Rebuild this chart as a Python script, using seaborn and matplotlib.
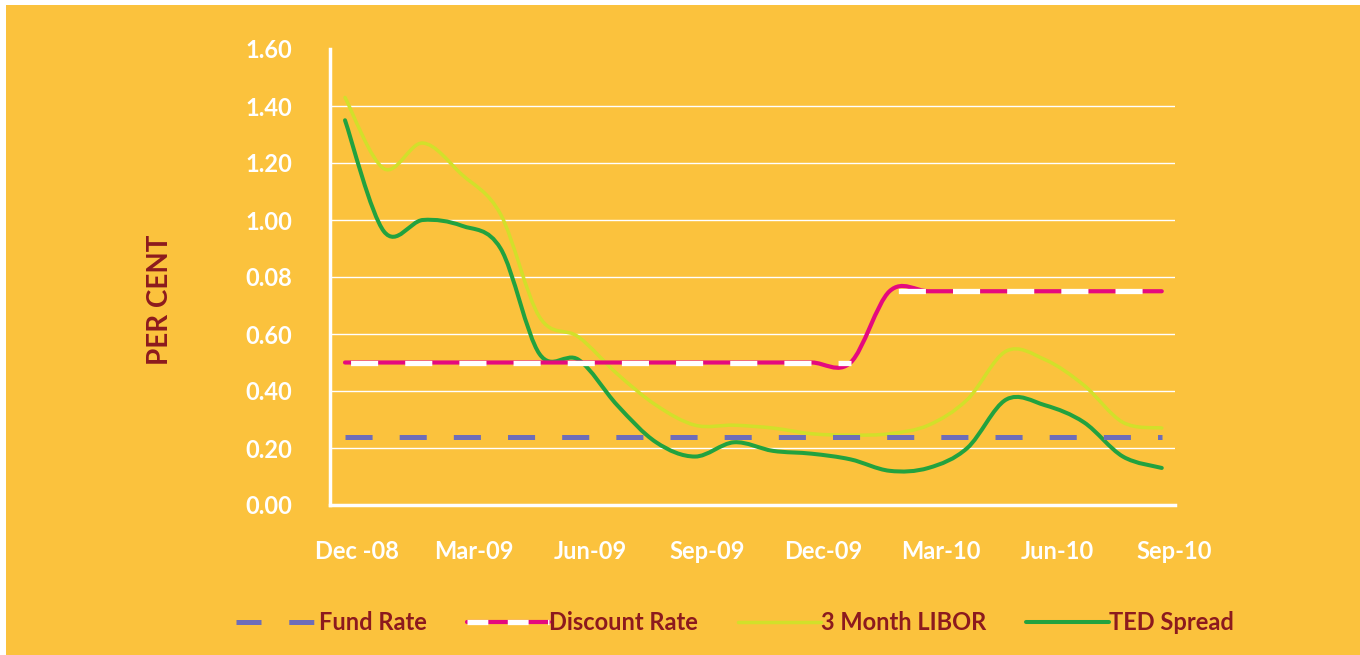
import numpy as np
import matplotlib
matplotlib.use("Agg")
import matplotlib.pyplot as plt
from matplotlib.path import Path
from matplotlib.patches import PathPatch, Rectangle
from matplotlib.lines import Line2D
from matplotlib.legend_handler import HandlerTuple
import matplotlib.transforms as mtransforms
import seaborn as sns

# monthly readings, Dec-08 .. Sep-10
months = ["Dec-08", "Jan-09", "Feb-09", "Mar-09", "Apr-09", "May-09", "Jun-09",
          "Jul-09", "Aug-09", "Sep-09", "Oct-09", "Nov-09", "Dec-09", "Jan-10",
          "Feb-10", "Mar-10", "Apr-10", "May-10", "Jun-10", "Jul-10", "Aug-10",
          "Sep-10"]
tick_labels = ["Dec -08", "Mar-09", "Jun-09", "Sep-09", "Dec-09", "Mar-10",
               "Jun-10", "Sep-10"]
y_tick_labels = ["0.00", "0.20", "0.40", "0.60", "0.08", "1.00", "1.20", "1.40", "1.60"]

fund_rate = [0.24] * 22
discount_rate = [0.50, 0.50, 0.50, 0.50, 0.50, 0.50, 0.50, 0.50, 0.50, 0.50, 0.50,
                 0.50, 0.50, 0.50, 0.75, 0.75, 0.75, 0.75, 0.75, 0.75, 0.75, 0.75]
libor_3m = [1.43, 1.18, 1.27, 1.16, 1.02, 0.66, 0.59, 0.46, 0.35, 0.28, 0.28,
            0.27, 0.25, 0.245, 0.25, 0.28, 0.37, 0.54, 0.51, 0.42, 0.29, 0.27]
ted_spread = [1.35, 0.96, 1.00, 0.98, 0.90, 0.53, 0.51, 0.35, 0.22, 0.17, 0.22,
              0.19, 0.18, 0.16, 0.12, 0.13, 0.20, 0.37, 0.35, 0.29, 0.17, 0.13]

BG = "#FBC23D"
TXT = "#8C1A1E"
FUND_C = "#6E6DB8"
DISC_C = "#E5097F"
LIBOR_C = "#D2E02A"
TED_C = "#22A23F"


def smooth_path(xs, ys):
    """Excel-style smoothed line as a cubic bezier path through the points"""
    p = np.column_stack([xs, ys]).astype(float)
    n = len(p)
    verts = [p[0]]
    codes = [Path.MOVETO]
    for i in range(n - 1):
        prev = p[max(i - 1, 0)]
        nxt = p[min(i + 2, n - 1)]
        c1 = p[i] + (p[i + 1] - prev) / 6
        c2 = p[i + 1] - (nxt - p[i]) / 6
        verts += [c1, c2, p[i + 1]]
        codes += [Path.CURVE4] * 3
    return Path(verts, codes)


sns.set_theme(style="white")
plt.rcParams["font.family"] = ["Lato", "DejaVu Sans"]
plt.rcParams["lines.scale_dashes"] = False

fig = plt.figure(figsize=(13.6, 6.55), dpi=100, facecolor="white")
fig.patches.append(Rectangle((6 / 1360, 0), 1, 650 / 655, transform=fig.transFigure,
                             facecolor=BG, edgecolor="none", zorder=-10))
ax = fig.add_axes([330 / 1360, 150 / 655, 845 / 1360, 456 / 655])
ax.set_facecolor("none")

x = np.arange(len(months))

ax.add_patch(PathPatch(smooth_path(x, libor_3m), fill=False, ec=LIBOR_C, lw=2.5,
                       capstyle="round", zorder=3))
ax.add_patch(PathPatch(smooth_path(x, ted_spread), fill=False, ec=TED_C, lw=2.9,
                       capstyle="round", zorder=4))

sns.lineplot(x=x, y=fund_rate, ax=ax, color=FUND_C, lw=3.6,
             linestyle=(0, (19.5, 19.5)), zorder=5)

ax.add_patch(PathPatch(smooth_path(x, discount_rate), fill=False, ec=DISC_C, lw=3.0,
                       capstyle="round", zorder=6))
# white dashes over the flat parts of the discount rate
step = discount_rate.index(0.75)
sns.lineplot(x=x[:step], y=discount_rate[:step], ax=ax, color="white", lw=3.8,
             linestyle=(-4, (19.5, 19.5)), zorder=7)
sns.lineplot(x=x[step:], y=discount_rate[step:], ax=ax, color="white", lw=3.8,
             linestyle=(-6, (19.5, 19.5)), zorder=7)

ax.set_xlim(-0.386, 21.34)
ax.set_ylim(0, 1.6)

ax.set_yticks(np.arange(0, 1.61, 0.2))
ax.set_yticklabels(y_tick_labels)
ax.set_xticks(x[::3])
ax.set_xticklabels(tick_labels)
ax.tick_params(axis="both", length=0, labelcolor="white", labelsize=17)
ax.tick_params(axis="y", pad=27)
ax.tick_params(axis="x", pad=25)
for lab in ax.get_xticklabels() + ax.get_yticklabels():
    lab.set_fontweight("bold")
shift = mtransforms.ScaledTranslation(0.12, 0, fig.dpi_scale_trans)
for lab in ax.get_xticklabels():
    lab.set_transform(lab.get_transform() + shift)

ax.grid(axis="y", color="white", lw=1.0)
ax.yaxis.get_gridlines()[-1].set_visible(False)
ax.set_axisbelow(True)
for side in ["top", "right"]:
    ax.spines[side].set_visible(False)
for side in ["left", "bottom"]:
    ax.spines[side].set_color("white")
    ax.spines[side].set_linewidth(2.5)

fig.text(160 / 1360, 1 - 300 / 655, "PER CENT", rotation=90, ha="center",
         va="center", color=TXT, fontsize=20, fontweight="bold")

h_fund = Line2D([], [], color=FUND_C, lw=3.6, linestyle=(0, (18, 20)))
h_disc = (Line2D([], [], color=DISC_C, lw=3.0),
          Line2D([], [], color="white", lw=3.8, linestyle=(0, (15, 14))))
h_libor = Line2D([], [], color=LIBOR_C, lw=2.5)
h_ted = Line2D([], [], color=TED_C, lw=2.9)
leg = fig.legend([h_fund, h_disc, h_libor, h_ted],
                 ["Fund Rate", "Discount Rate", "3 Month LIBOR", "TED Spread"],
                 handler_map={tuple: HandlerTuple(ndivide=1)},
                 loc="center", bbox_to_anchor=(735 / 1360, 32 / 655), ncol=4,
                 frameon=False, handlelength=3.5, handletextpad=0.0,
                 columnspacing=1.7, prop={"size": 17, "weight": "bold"})
for t in leg.get_texts():
    t.set_color(TXT)

fig.savefig("out.png", dpi=100, facecolor=fig.get_facecolor())
